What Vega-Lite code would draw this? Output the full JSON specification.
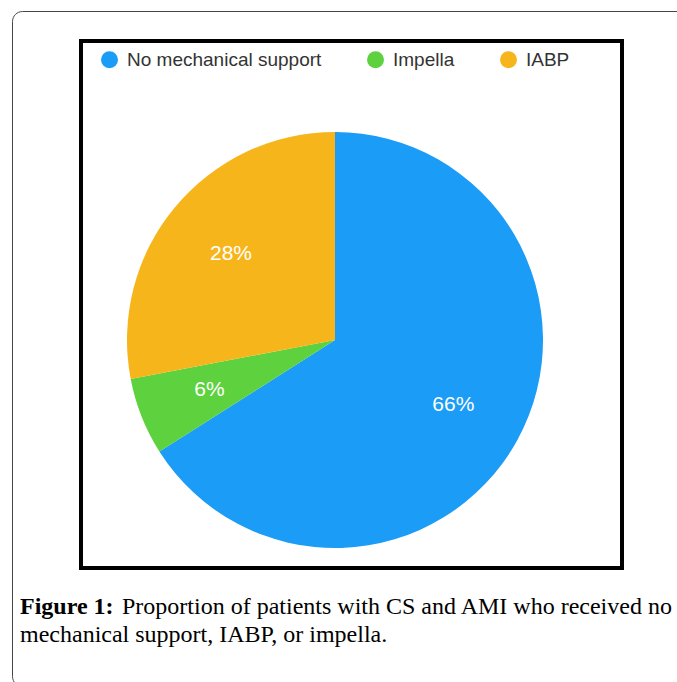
{
  "$schema": "https://vega.github.io/schema/vega-lite/v6.json",
  "width": 541,
  "height": 527,
  "autosize": {"type": "none"},
  "padding": {"left": 81, "top": 41, "right": 55, "bottom": 114},
  "background": "white",
  "config": {"view": {"stroke": "#000000", "strokeWidth": 4}},
  "title": {
    "text": "Figure 1:",
    "subtitle": [
      "\u200b\u00a0\u00a0\u00a0\u00a0\u00a0\u00a0\u00a0\u00a0\u00a0\u00a0\u00a0\u00a0\u00a0\u00a0\u00a0\u00a0\u00a0Proportion of patients with CS and AMI who received no",
      "mechanical support, IABP, or impella."
    ],
    "orient": "bottom",
    "anchor": "start",
    "frame": "group",
    "dx": -61,
    "offset": -92,
    "font": "Liberation Serif",
    "fontSize": 24,
    "fontWeight": "bold",
    "color": "#000000",
    "lineHeight": 28,
    "subtitleFont": "Liberation Serif",
    "subtitleFontSize": 24,
    "subtitleFontWeight": "normal",
    "subtitleColor": "#000000",
    "subtitleLineHeight": 28,
    "subtitlePadding": -24
  },
  "data": {
    "values": [
      {"support": "No mechanical support", "share": 0.66, "rank": 1},
      {"support": "Impella", "share": 0.06, "rank": 2},
      {"support": "IABP", "share": 0.28, "rank": 3}
    ]
  },
  "encoding": {
    "theta": {"field": "share", "type": "quantitative", "stack": true},
    "order": {"field": "rank", "type": "quantitative"},
    "x": {"value": 254},
    "y": {"value": 299}
  },
  "layer": [
    {
      "mark": {"type": "arc", "outerRadius": 208, "stroke": null},
      "encoding": {
        "color": {
          "field": "support",
          "type": "nominal",
          "scale": {
            "domain": ["No mechanical support", "Impella", "IABP"],
            "range": ["#1b9cf6", "#5dd13e", "#f7b51c"]
          },
          "legend": {
            "orient": "none",
            "legendX": 19,
            "legendY": 9,
            "direction": "horizontal",
            "title": null,
            "symbolType": "circle",
            "symbolSize": 289,
            "symbolStrokeWidth": 0,
            "labelFont": "Liberation Sans",
            "labelFontSize": 19,
            "labelColor": "#333333",
            "labelOffset": 8,
            "labelLimit": 400,
            "columnPadding": 44,
            "padding": 0
          }
        }
      }
    },
    {
      "mark": {
        "type": "text",
        "radius": 135,
        "font": "Liberation Sans",
        "fontSize": 21,
        "color": "#ffffff"
      },
      "encoding": {
        "text": {"field": "share", "type": "quantitative", "format": ".0%"},
        "opacity": {
          "datum": "frame",
          "type": "nominal",
          "scale": {"range": [0.9]},
          "legend": {
            "orient": "none",
            "legendX": -69,
            "legendY": -30,
            "title": null,
            "padding": 337,
            "strokeColor": "#444444",
            "cornerRadius": 10,
            "fillColor": null,
            "symbolOpacity": 0,
            "symbolSize": 0,
            "symbolStrokeWidth": 0,
            "symbolStrokeColor": "transparent",
            "symbolFillColor": "transparent",
            "labelOpacity": 0,
            "labelColor": "transparent",
            "labelFontSize": 1,
            "labelLimit": 1,
            "encode": {
              "symbols": {"update": {"opacity": {"value": 0}, "fill": {"value": "transparent"}, "stroke": {"value": "transparent"}}},
              "labels": {"update": {"opacity": {"value": 0}}}
            }
          }
        }
      }
    }
  ]
}
